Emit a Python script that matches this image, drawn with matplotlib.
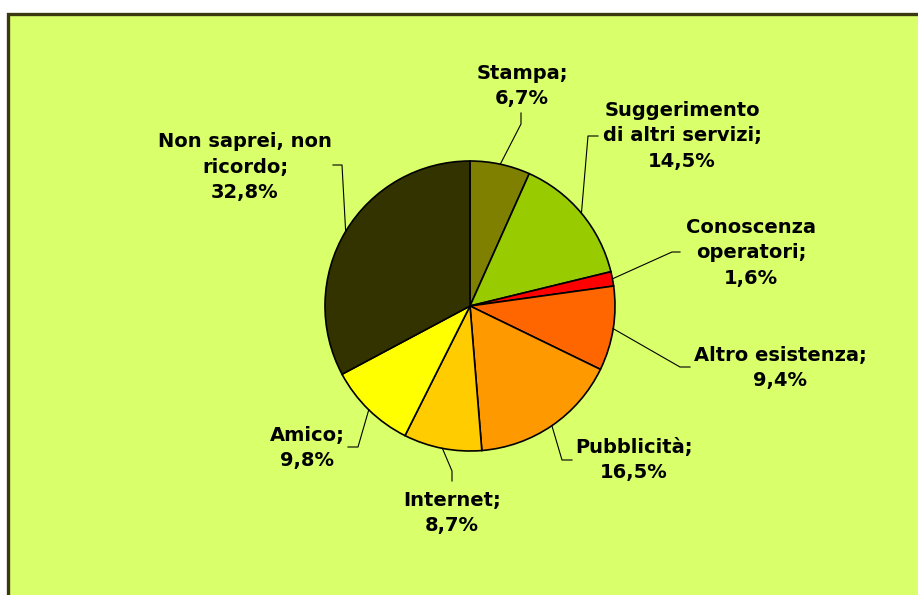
import matplotlib.pyplot as plt
import numpy as np
from matplotlib.patches import Rectangle

# survey answers: how people heard about the service
labels = ["Stampa", "Suggerimento\ndi altri servizi", "Conoscenza\noperatori",
          "Altro esistenza", "Pubblicità", "Internet", "Amico",
          "Non saprei, non\nricordo"]
values = [6.7, 14.5, 1.6, 9.4, 16.5, 8.7, 9.8, 32.8]
colors = ["#808000", "#99CC00", "#FF0000", "#FF6600",
          "#FF9900", "#FFCC00", "#FFFF00", "#333300"]

# label centres and leader-line elbows (pixel coords, y down)
text_pos = [(522, 86), (682, 136), (751, 253), (780, 368),
            (634, 460), (452, 513), (307, 448), (245, 167)]
elbows = [[(521, 124), (521, 113)],
          [(588, 136), (598, 136)],
          [(672, 252), (680, 252)],
          [(680, 367), (690, 367)],
          [(562, 460), (572, 460)],
          [(452, 471), (452, 481)],
          [(358, 447), (348, 447)],
          [(342, 165), (333, 165)]]

cx, cy, r = 470, 306, 145

fig = plt.figure(figsize=(9.18, 5.95), dpi=100, facecolor="white")
ax = fig.add_axes([0, 0, 1, 1])

ax.add_patch(Rectangle((8, 14), 930, 600, facecolor="#D9FF6B",
                       edgecolor="#3C3910", lw=2.4, zorder=0))

# y axis is flipped, so counterclock here runs clockwise on screen
wedges, _ = ax.pie(values, colors=colors, center=(cx, cy), radius=r,
                   startangle=270, counterclock=True,
                   wedgeprops=dict(edgecolor="black", linewidth=1.2),
                   frame=True)
ax.set_xlim(0, 918)
ax.set_ylim(595, 0)
ax.set_aspect("equal")
ax.axis("off")

for w, lab, v, (tx, ty), elb in zip(wedges, labels, values, text_pos, elbows):
    mid = np.deg2rad((w.theta1 + w.theta2) / 2)
    xs = [cx + r * np.cos(mid)] + [p[0] for p in elb]
    ys = [cy + r * np.sin(mid)] + [p[1] for p in elb]
    ax.plot(xs, ys, color="black", lw=0.8, zorder=3)
    txt = f"{lab};\n{v:.1f}%".replace(".", ",")
    ax.text(tx, ty, txt, ha="center", va="center", fontsize=14,
            fontweight="bold", family="DejaVu Sans", linespacing=1.42,
            color="black", zorder=4)

fig.savefig("out.png", dpi=100, facecolor="white")
